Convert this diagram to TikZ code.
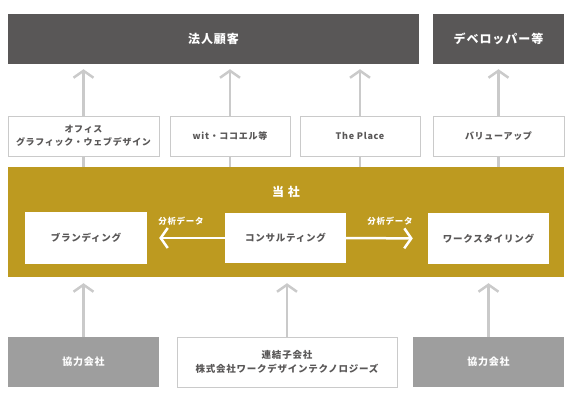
\documentclass[tikz,border=0pt]{standalone}
\usepackage{fontspec}
\setmainfont{Noto Sans CJK JP}[LetterSpace=8]
\usetikzlibrary{arrows.meta}
\definecolor{darkbox}{HTML}{595757}
\definecolor{gold}{HTML}{BD9A20}
\definecolor{graybox}{HTML}{9E9E9E}
\definecolor{lineg}{HTML}{CACACA}
\definecolor{txt}{HTML}{595757}
\tikzset{
  box/.style={rectangle, inner sep=0pt, align=center, font=\fontsize{9}{13.5}\selectfont\bfseries},
  darkb/.style={box, fill=darkbox, text=white, font=\fontsize{12}{14}\selectfont\bfseries},
  whiteb/.style={box, fill=white, draw=lineg, line width=1pt, text=txt},
  innerb/.style={box, fill=white, text=txt, font=\fontsize{9.5}{13}\selectfont\bfseries},
  grayb/.style={box, fill=graybox, text=white, font=\fontsize{10}{13}\selectfont\bfseries},
  goldb/.style={rectangle, fill=gold, inner sep=0pt},
  uparrow/.style={draw=lineg, line width=2.5pt, -{Straight Barb[length=7pt,width=20pt]}},
  conn/.style={draw=lineg, line width=2.5pt},
  whitearrow/.style={draw=white, line width=2.5pt, -{Straight Barb[length=7pt,width=20pt]}},
  lbl/.style={text=white, font=\fontsize{8.5}{10}\selectfont\bfseries, inner sep=0pt}
}
\begin{document}
\begin{tikzpicture}[x=1pt,y=-1pt]
\useasboundingbox (0,0) rectangle (571,400);
% gold band
\node[goldb, minimum width=556pt, minimum height=110pt] (gold) at (286,222) {};
\node[text=white, font=\fontsize{12}{14}\selectfont\bfseries, inner sep=0pt] (tosha) at (286,192) {当\hspace{0.3em}社};
% top
\node[darkb, minimum width=411pt, minimum height=50pt] (client) at (213.5,39) {法人顧客};
\node[darkb, minimum width=131pt, minimum height=50pt] (dev) at (498.5,39) {デベロッパー等};
% connector start points on the gold band
\coordinate (c1) at (83.5,167);
\coordinate (c2) at (230,167);
\coordinate (c3) at (360,167);
\coordinate (c4) at (498.5,167);
% row 2
\node[whiteb, minimum width=151pt, minimum height=40pt] (office) at (83.5,136) {オフィス\\グラフィック・ウェブデザイン};
\node[whiteb, minimum width=120pt, minimum height=40pt] (wit) at (230,136) {wit・ココエル等};
\node[whiteb, minimum width=120pt, minimum height=40pt] (place) at (360,136) {The Place};
\node[whiteb, minimum width=131pt, minimum height=40pt] (value) at (498.5,136) {バリューアップ};
\draw[conn] (c1) -- (office.south);
\draw[conn] (c2) -- (wit.south);
\draw[conn] (c3) -- (place.south);
\draw[conn] (c4) -- (value.south);
\draw[uparrow, shorten >=5pt] (office.north) -- (office.north |- client.south);
\draw[uparrow, shorten >=5pt] (wit.north) -- (wit.north |- client.south);
\draw[uparrow, shorten >=5pt] (place.north) -- (place.north |- client.south);
\draw[uparrow, shorten >=5pt] (value.north) -- (value.north |- dev.south);
% inner boxes
\node[innerb, minimum width=122pt, minimum height=52pt] (brand) at (86,238) {ブランディング};
\node[innerb, minimum width=121pt, minimum height=50pt] (consult) at (285.5,238) {コンサルティング};
\node[innerb, minimum width=121pt, minimum height=51pt] (work) at (488.5,238.5) {ワークスタイリング};
\draw[whitearrow, shorten >=12pt] (consult.west) -- (brand.east);
\draw[whitearrow, shorten >=15pt] (consult.east) -- (work.west);
\node[lbl] (l1) at (181,221) {分析データ};
\node[lbl] (l2) at (390,221) {分析データ};
% bottom
\node[grayb, minimum width=151pt, minimum height=50pt] (coop1) at (83.5,362) {協力会社};
\node[whiteb, minimum width=220pt, minimum height=50pt, font=\fontsize{9.5}{14}\selectfont\bfseries] (sub) at (287,362) {連結子会社\\株式会社ワークデザインテクノロジーズ};
\node[grayb, minimum width=151pt, minimum height=50pt] (coop2) at (488.5,362) {協力会社};
\draw[uparrow, shorten >=6pt] (coop1.north) -- (coop1.north |- gold.south);
\draw[uparrow, shorten >=6pt] (sub.north) -- (sub.north |- gold.south);
\draw[uparrow, shorten >=6pt] (coop2.north) -- (coop2.north |- gold.south);
\end{tikzpicture}
\end{document}
